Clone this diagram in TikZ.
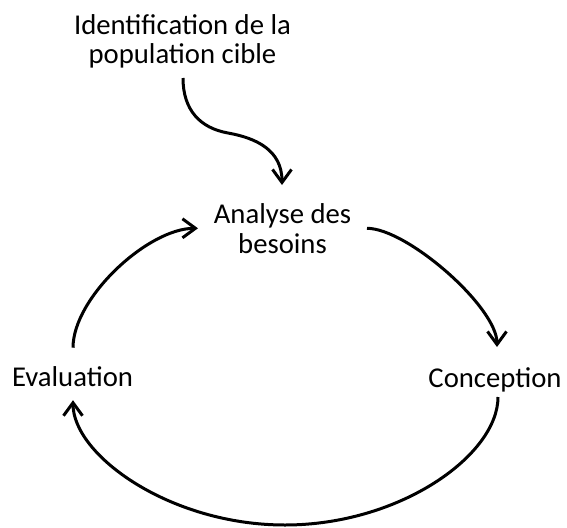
\documentclass[tikz,border=0pt]{standalone}
\usepackage{fontspec}
\setmainfont{Carlito}
\usetikzlibrary{arrows.meta,calc}
\tikzset{
  lbl/.style={inner sep=0pt, align=center, anchor=base, font=\fontsize{28.7pt}{29.5pt}\selectfont},
  flow/.style={line width=3pt, -{Straight Barb[length=13pt,width=19pt]}},
}
\begin{document}
\begin{tikzpicture}[x=1pt,y=-1pt]
\useasboundingbox (0,0) rectangle (567,527);
% base anchor of a two-line node = baseline of its last line
\node[lbl] (ident) at (182.5,63.8) {Identification de la\\population cible};
\node[lbl] (analyse) at (282.5,253.3) {Analyse des\\besoins};
\node[lbl] (eval) at (72.5,386.7) {Evaluation};
\node[lbl] (concep) at (495,387) {Conception};
% target population -> needs analysis
\draw[flow] ($(ident.base)+(0.5,14.2)$) .. controls +(0,32) and +(-28,-5) .. ++(45,55)
  .. controls +(28,5) and +(0,-35) .. ($(analyse.base)+(-0.5,-68.3)$);
% analysis -> design
\draw[flow] ($(analyse.base)+(84.5,-25)$) .. controls +(40,0) and +(0,-40) .. ($(concep.base)+(2,-40)$);
% design -> evaluation
\draw[flow] ($(concep.base)+(3,10)$) .. controls +(0,58) and +(115,0) .. ++(-213,128)
  .. controls +(-115,0) and +(0,55) .. ($(eval.base)+(0.5,13.5)$);
% evaluation -> analysis
\draw[flow] ($(eval.base)+(0.5,-39)$) .. controls +(0,-50) and +(-50,0) .. ($(analyse.base)+(-84.5,-25)$);
\end{tikzpicture}
\end{document}
